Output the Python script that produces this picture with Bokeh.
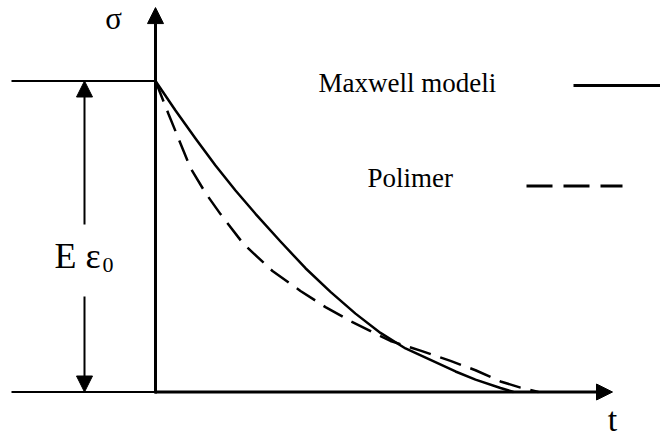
from bokeh.plotting import figure
from bokeh.models import Range1d, Arrow, NormalHead, Label
from bokeh.embed import file_html
from bokeh.resources import INLINE

# ---- data ----
# Maxwell modeli (solid): time t, stress sigma/(E*eps0)
t_maxwell = [0.0, 0.2, 0.4, 0.6, 0.8, 1.0, 1.25, 1.5, 1.75, 2.0, 2.25, 2.5, 2.75, 3.0, 3.2, 3.45, 3.58]
s_maxwell = [1.0, 0.905, 0.815, 0.728, 0.648, 0.573, 0.484, 0.398, 0.322, 0.252, 0.190, 0.140, 0.103, 0.066, 0.040, 0.013, 0.0]
# Polimer (dashed)
t_polimer = [0.0, 0.13, 0.35, 0.5, 0.65, 0.88, 1.17, 1.45, 1.7, 1.95, 2.35, 2.65, 2.95, 3.2, 3.45, 3.65, 3.83]
s_polimer = [1.0, 0.894, 0.72, 0.64, 0.572, 0.476, 0.389, 0.325, 0.273, 0.228, 0.164, 0.133, 0.100, 0.070, 0.034, 0.014, 0.0]

series_names = ["Maxwell modeli", "Polimer"]
axis_labels = ["σ", "t"]
level_label = "E ε"
level_sub = "0"

SIGMA0 = 1.0          # initial stress level E*eps0
T_AXIS_END = 4.57     # tip of t axis
S_AXIS_END = 1.236    # tip of sigma axis
T_LEFT = -1.44        # left end of guide lines
T_LEVEL = -0.71       # position of E*eps0 double arrow

FONT = "Liberation Serif"

p = figure(width=660, height=439, output_backend="svg", toolbar_location=None,
           x_range=Range1d(-1.55, 5.05), y_range=Range1d(-0.1527, 1.2588),
           min_border=0, min_border_left=0, min_border_right=0,
           min_border_top=0, min_border_bottom=0)
p.axis.visible = False
p.grid.visible = False
p.outline_line_color = None
p.background_fill_color = "white"
p.border_fill_color = "white"

# guide lines (thin)
p.line([T_LEFT, 0], [SIGMA0, SIGMA0], line_width=2, color="black")
p.line([T_LEFT, 0], [0, 0], line_width=2, color="black")

def head():
    return NormalHead(size=16, fill_color="black", line_color="black", line_width=1)

# axes with arrow heads
p.add_layout(Arrow(end=head(), x_start=0, y_start=-0.005, x_end=0, y_end=S_AXIS_END,
                   line_width=3, line_color="black"))
p.add_layout(Arrow(end=head(), x_start=-0.005, y_start=0, x_end=T_AXIS_END, y_end=0,
                   line_width=3, line_color="black"))

# E eps0 double arrow (interrupted by the label)
p.add_layout(Arrow(end=head(), x_start=T_LEVEL, y_start=0.5386, x_end=T_LEVEL, y_end=SIGMA0,
                   line_width=2, line_color="black"))
p.add_layout(Arrow(end=head(), x_start=T_LEVEL, y_start=0.307, x_end=T_LEVEL, y_end=0,
                   line_width=2, line_color="black"))

# curves
p.line(t_maxwell, s_maxwell, line_width=2.5, color="black", line_join="round")
p.line(t_polimer, s_polimer, line_width=2.5, color="black", line_dash="22 10")

# legend samples
p.line([4.18, 5.10], [0.9855, 0.9855], line_width=3, color="black")
p.line([3.71, 4.67], [0.662, 0.662], line_width=3, color="black", line_dash="26 11")

# texts
p.add_layout(Label(x=1.63, y=0.992, text=series_names[0], text_font=FONT,
                   text_font_size="27px", text_color="black", text_baseline="alphabetic"))
p.add_layout(Label(x=2.12, y=0.6865, text=series_names[1], text_font=FONT,
                   text_font_size="27px", text_color="black", text_baseline="alphabetic"))
p.add_layout(Label(x=-0.42, y=1.201, text=axis_labels[0], text_font=FONT,
                   text_font_size="31px", text_color="black", text_align="center",
                   text_baseline="alphabetic"))
p.add_layout(Label(x=4.57, y=-0.0884, text=axis_labels[1], text_font=FONT,
                   text_font_size="34px", text_color="black", text_align="center",
                   text_baseline="alphabetic"))
p.add_layout(Label(x=-1.01, y=0.4357, text=level_label, text_font=FONT,
                   text_font_size="36px", text_color="black", text_baseline="alphabetic"))
p.add_layout(Label(x=-0.53, y=0.4068, text=level_sub, text_font=FONT,
                   text_font_size="22px", text_color="black", text_baseline="alphabetic"))

open("out.html", "w").write(file_html(p, INLINE))
